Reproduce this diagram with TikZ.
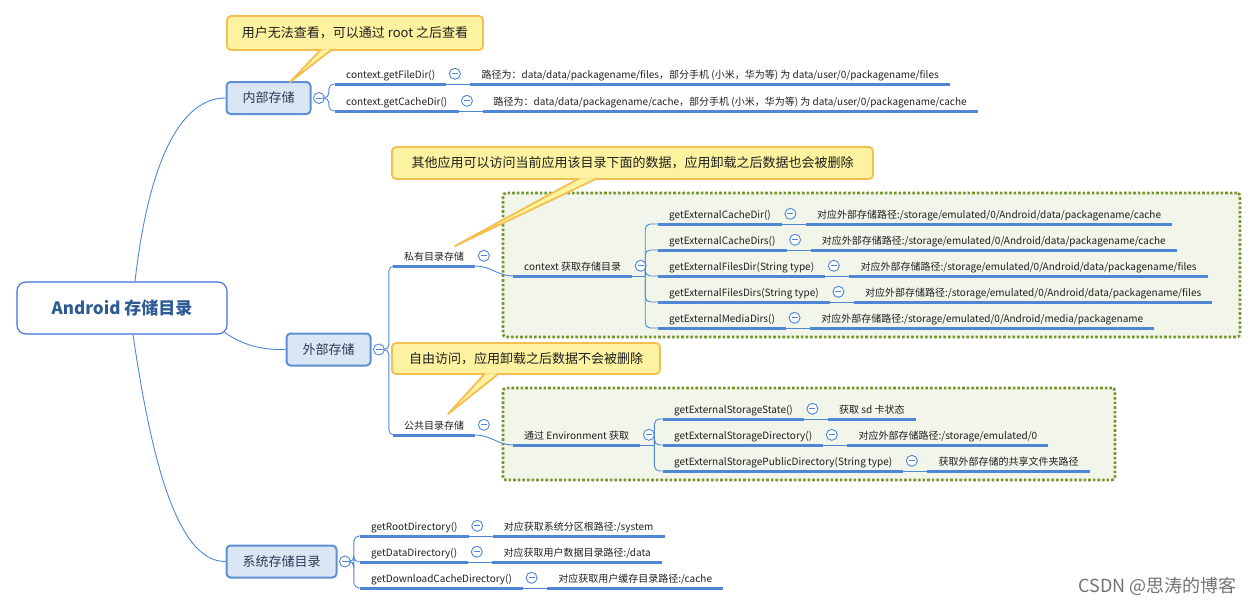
\documentclass[tikz,border=0pt]{standalone}
\usepackage{fontspec}
\setmainfont{Noto Sans CJK SC}
\usepackage{xcolor}
\usetikzlibrary{positioning, calc, fit, backgrounds}
\definecolor{linkblue}{HTML}{4F86D5}
\definecolor{rootline}{HTML}{3B6FE0}
\definecolor{roottext}{HTML}{2E5B94}
\definecolor{topicline}{HTML}{5E8FD5}
\definecolor{topicfill}{HTML}{DBE6F4}
\definecolor{topictext}{HTML}{2B3A55}
\definecolor{leaftext}{HTML}{1F1F1F}
\definecolor{noteline}{HTML}{F4BE50}
\definecolor{notefill}{HTML}{FCF29F}
\definecolor{groupline}{HTML}{76952C}
\definecolor{groupfill}{HTML}{F1F5EA}
\tikzset{
  rootbox/.style   = {rectangle, rounded corners=9pt, draw=rootline, line width=1.1pt, fill=white,
                      minimum width=210pt, minimum height=52pt,
                      font=\fontsize{17}{20}\selectfont\bfseries, text=roottext},
  topic/.style     = {rectangle, rounded corners=4pt, draw=topicline, line width=2pt, fill=topicfill,
                      minimum height=32pt, inner xsep=16pt, font=\fontsize{13}{16}\selectfont, text=topictext},
  uline/.style     = {draw=linkblue, line width=3pt},
  link/.style      = {draw=linkblue, line width=0.9pt},
  branch/.style    = {link, rounded corners=5pt},
  leaf/.style      = {anchor=south west, inner xsep=11pt, inner ysep=0pt, minimum height=20pt,
                      text height=11pt, text depth=1pt, font=\fontsize{10}{12}\selectfont, text=leaftext,
                      append after command={(\tikzlastnode.south west) edge[uline] (\tikzlastnode.south east)}},
  fold/.style      = {circle, draw=linkblue, fill=white, line width=0.9pt, minimum size=11pt, inner sep=0pt,
                      path picture={\draw[linkblue, line width=0.9pt]
                        ([xshift=-3pt]path picture bounding box.center) -- ([xshift=3pt]path picture bounding box.center);}},
  notebox/.style   = {rectangle, rounded corners=4pt, draw=noteline, line width=1.8pt, fill=notefill,
                      font=\fontsize{13}{16}\selectfont, text=leaftext},
  noteedge/.style  = {draw=noteline, line width=1.8pt, line join=round},
  groupbox/.style  = {rectangle, rounded corners=3pt, draw=groupline, line width=2.6pt, dotted,
                      fill=groupfill, inner sep=0pt},
  watermark/.style = {font=\fontsize{18}{20}\selectfont, text=black!55},
}
\begin{document}
\begin{tikzpicture}[x=1pt, y=1pt]
  \useasboundingbox (0,0) rectangle (1257,-605);
  % ---- root and main topics
  \node[rootbox] (root) at (122,-308) {Android 存储目录};
  \node[topic] (inner) at (268.5,-98) {内部存储};
  \node[topic] (ext) at (328.5,-349.5) {外部存储};
  \node[topic] (sys) at (281.5,-561.5) {系统存储目录};
  \node[fold, right=1.5pt of inner] (innerfold) {};
  \node[fold, right=1.5pt of ext] (extfold) {};
  \node[fold, right=1.5pt of sys] (sysfold) {};
  \draw[link] ($(root.north)+(13,0)$) .. controls (150,-150) and (185,-98) .. (inner.west);
  \draw[link] ($(root.south east)+(-3,2)$) .. controls (245,-346) and (262,-350) .. (ext.west);
  \draw[link] ($(root.south)+(11,0)$) .. controls (150,-450) and (175,-562) .. (sys.west);

  % ---- internal storage
  \node[leaf] (filedir) at (335,-84) {context.getFileDir()};
  \node[fold, right=2.5pt of filedir] (filedirfold) {};
  \node[leaf, right=24pt of filedir] (filepath)
    {路径为：data/data/packagename/files，部分手机 (小米，华为等) 为 data/user/0/packagename/files};
  \draw[link] (filedir.south east) -- (filepath.south west);
  \node[leaf] (cachedir) at (335,-111) {context.getCacheDir()};
  \node[fold, right=2.5pt of cachedir] (cachedirfold) {};
  \node[leaf, right=24pt of cachedir] (cachepath)
    {路径为：data/data/packagename/cache，部分手机 (小米，华为等) 为 data/user/0/packagename/cache};
  \draw[link] (cachedir.south east) -- (cachepath.south west);
  \draw[branch] (innerfold.east) -- ++(4,0) |- (filedir.south west);
  \draw[branch] (innerfold.east) -- ++(4,0) |- (cachedir.south west);

  % ---- external storage: green groups behind
  \begin{scope}[on background layer]
    \node[groupbox, fit={(503,-193) (1240,-337)}] (privategroup) {};
    \node[groupbox, fit={(503,-388) (1115,-480)}] (publicgroup) {};
  \end{scope}

  % ---- private directory
  \node[leaf] (private) at (393,-266) {私有目录存储};
  \node[fold, right=2.5pt of private] (privatefold) {};
  \node[leaf] (ctx) at (513,-276) {context 获取存储目录};
  \node[fold, right=2.5pt of ctx] (ctxfold) {};
  \draw[link] (private.south east) to[out=0, in=180] (ctx.south west);
  \coordinate (ctxhub) at ($(ctx.south east)+(13,0)$);
  \draw[link] (ctx.south east) -- (ctxhub);
  \foreach \m/\p [count=\i] in {
      {getExternalCacheDir()}/{对应外部存储路径:/storage/emulated/0/Android/data/packagename/cache},
      {getExternalCacheDirs()}/{对应外部存储路径:/storage/emulated/0/Android/data/packagename/cache},
      {getExternalFilesDir(String type)}/{对应外部存储路径:/storage/emulated/0/Android/data/packagename/files},
      {getExternalFilesDirs(String type)}/{对应外部存储路径:/storage/emulated/0/Android/data/packagename/files},
      {getExternalMediaDirs()}/{对应外部存储路径:/storage/emulated/0/Android/media/packagename}} {
    \node[leaf] (xm\i) at (658,{-198-26*\i}) {\m};
    \node[fold, right=2.5pt of xm\i] (xmfold\i) {};
    \node[leaf, right=24pt of xm\i] (xp\i) {\p};
    \draw[link] (xm\i.south east) -- (xp\i.south west);
    \draw[branch] (ctxhub) |- (xm\i.south west);
  }

  % ---- public directory
  \node[leaf] (public) at (393,-435) {公共目录存储};
  \node[fold, right=2.5pt of public] (publicfold) {};
  \node[leaf] (env) at (513,-445) {通过 Environment 获取};
  \node[fold, right=2.5pt of env] (envfold) {};
  \draw[link] (public.south east) to[out=0, in=180] (env.south west);
  \coordinate (envhub) at ($(env.south east)+(14,0)$);
  \draw[link] (env.south east) -- (envhub);
  \foreach \m/\p [count=\i] in {
      {getExternalStorageState()}/{获取 sd 卡状态},
      {getExternalStorageDirectory()}/{对应外部存储路径:/storage/emulated/0},
      {getExternalStoragePublicDirectory(String type)}/{获取外部存储的共享文件夹路径}} {
    \node[leaf] (em\i) at (663,{-393-26*\i}) {\m};
    \node[fold, right=2.5pt of em\i] (emfold\i) {};
    \node[leaf, right=24pt of em\i] (ep\i) {\p};
    \draw[link] (em\i.south east) -- (ep\i.south west);
    \draw[branch] (envhub) |- (em\i.south west);
  }
  \draw[branch] (extfold.east) -- ++(4,0) |- (private.south west);
  \draw[branch] (extfold.east) -- ++(4,0) |- (public.south west);

  % ---- system storage
  \foreach \m/\p [count=\i] in {
      {getRootDirectory()}/{对应获取系统分区根路径:/system},
      {getDataDirectory()}/{对应获取用户数据目录路径:/data},
      {getDownloadCacheDirectory()}/{对应获取用户缓存目录路径:/cache}} {
    \node[leaf] (sm\i) at (360,{-510-26*\i}) {\m};
    \node[fold, right=2.5pt of sm\i] (smfold\i) {};
    \node[leaf, right=24pt of sm\i] (sp\i) {\p};
    \draw[link] (sm\i.south east) -- (sp\i.south west);
    \draw[branch] (sysfold.east) -- ++(3,0) |- (sm\i.south west);
  }

  % ---- callouts
  \node[notebox, minimum width=256pt, minimum height=34pt] (note1) at (355,-33)
    {用户无法查看，可以通过 root 之后查看};
  \coordinate (tip1) at (290,-82);
  \fill[notefill] ($(note1.south west)+(95,1.5)$) -- (tip1) -- ($(note1.south west)+(106,1.5)$) -- cycle;
  \draw[noteedge] ($(note1.south west)+(95,1.5)$) -- (tip1) -- ($(note1.south west)+(106,1.5)$);

  \node[notebox, minimum width=481pt, minimum height=32pt] (note2) at (632.5,-163)
    {其他应用可以访问当前应用该目录下面的数据，应用卸载之后数据也会被删除};
  \coordinate (tip2) at (455,-246);
  \fill[notefill] ($(note2.south west)+(188,1.5)$) -- (tip2) -- ($(note2.south west)+(206,1.5)$) -- cycle;
  \draw[noteedge] ($(note2.south west)+(188,1.5)$) -- (tip2) -- ($(note2.south west)+(206,1.5)$);

  \node[notebox, minimum width=268pt, minimum height=31pt] (note3) at (526,-358.5)
    {自由访问，应用卸载之后数据不会被删除};
  \coordinate (tip3) at (448,-414);
  \fill[notefill] ($(note3.south west)+(94,1.5)$) -- (tip3) -- ($(note3.south west)+(108,1.5)$) -- cycle;
  \draw[noteedge] ($(note3.south west)+(94,1.5)$) -- (tip3) -- ($(note3.south west)+(108,1.5)$);

  % ---- watermark
  \node[watermark, anchor=east] (wm) at (1240,-586) {CSDN @思涛的博客};
\end{tikzpicture}
\end{document}
